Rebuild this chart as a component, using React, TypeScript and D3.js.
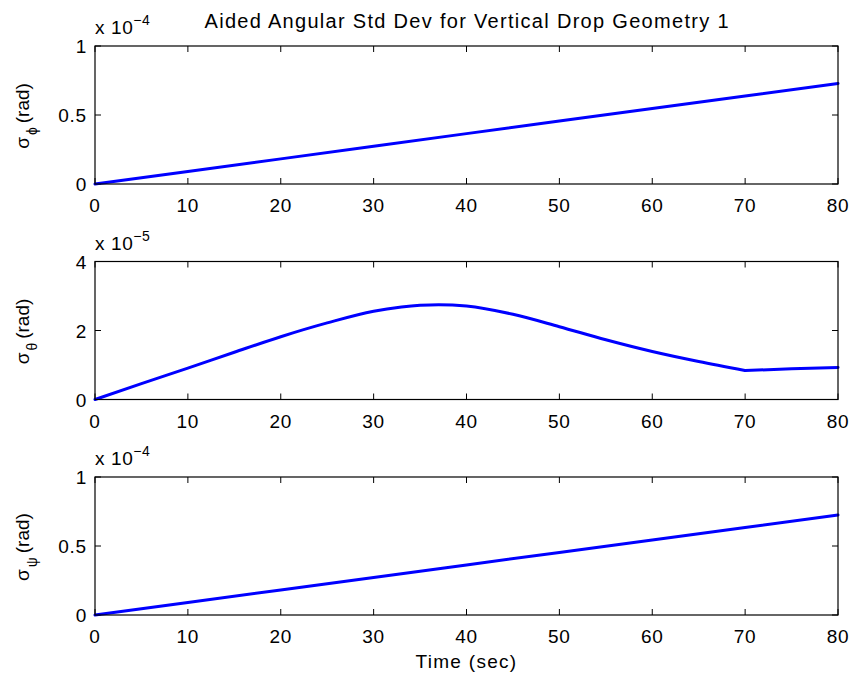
import React from "react";
import * as d3 from "d3";

const timeTop = [0, 10, 20, 30, 40, 50, 60, 70, 80];
const phiValues = [0, 0.091, 0.182, 0.273, 0.365, 0.456, 0.547, 0.638, 0.729];

const timeMid = [0, 5, 10, 15, 20, 25, 30, 33, 35, 37, 40, 45, 50, 55, 60, 65, 70, 75, 80];
const thetaValues = [0, 0.46, 0.91, 1.37, 1.82, 2.22, 2.56, 2.68, 2.73, 2.75, 2.71, 2.47, 2.11, 1.73, 1.39, 1.1, 0.84, 0.89, 0.93];
const thetaKnee = 70;

const timeBot = [0, 10, 20, 30, 40, 50, 60, 70, 80];
const psiValues = [0, 0.091, 0.181, 0.272, 0.363, 0.453, 0.544, 0.634, 0.725];

const xTicks = [0, 10, 20, 30, 40, 50, 60, 70, 80];
const yTicksA = [0, 0.5, 1];
const yTicksB = [0, 2, 4];

const title = "Aided Angular Std Dev for Vertical Drop Geometry 1";
const xLabel = "Time (sec)";

const W = 854;
const H = 681;
const left = 95;
const right = 838;
const plotH = 138;
const tops = [46, 261.5, 477];
const FONT = "'Liberation Sans', Arial, Helvetica, sans-serif";
const FS = 19;

type PanelProps = {
  top: number;
  xs: number[];
  ys: number[];
  yMax: number;
  yTicks: number[];
  exp: string;
  sub: string;
  knee?: number;
};

function Panel({ top, xs, ys, yMax, yTicks, exp, sub, knee }: PanelProps) {
  const x = d3.scaleLinear().domain([0, 80]).range([left, right]);
  const y = d3.scaleLinear().domain([0, yMax]).range([top + plotH, top]);
  const pts: [number, number][] = xs.map((t, i) => [t, ys[i]]);
  const lineCurve = d3
    .line<[number, number]>()
    .x((d) => x(d[0]))
    .y((d) => y(d[1]))
    .curve(d3.curveMonotoneX);
  const lineLin = d3
    .line<[number, number]>()
    .x((d) => x(d[0]))
    .y((d) => y(d[1]));
  let paths: string[];
  if (knee !== undefined) {
    const a = pts.filter((p) => p[0] <= knee);
    const b = pts.filter((p) => p[0] >= knee);
    paths = [lineCurve(a) || "", lineLin(b) || ""];
  } else {
    paths = [lineLin(pts) || ""];
  }
  const tl = 6;
  const bottom = top + plotH;
  return (
    <g>
      <rect x={left} y={top} width={right - left} height={plotH} fill="white" stroke="none" />
      {xTicks.map((t) => (
        <g key={"xt" + t}>
          <line x1={x(t)} x2={x(t)} y1={bottom} y2={bottom - tl} stroke="black" strokeWidth={1} />
          <line x1={x(t)} x2={x(t)} y1={top} y2={top + tl} stroke="black" strokeWidth={1} />
          <text x={x(t)} y={bottom + 28} fontSize={FS} letterSpacing={0.8} textAnchor="middle" fontFamily={FONT}>
            {t}
          </text>
        </g>
      ))}
      {yTicks.map((t) => (
        <g key={"yt" + t}>
          <line x1={left} x2={left + tl} y1={y(t)} y2={y(t)} stroke="black" strokeWidth={1} />
          <line x1={right} x2={right - tl} y1={y(t)} y2={y(t)} stroke="black" strokeWidth={1} />
          <text x={left - 8} y={y(t) + 7} fontSize={FS} letterSpacing={0.8} textAnchor="end" fontFamily={FONT}>
            {String(t)}
          </text>
        </g>
      ))}
      {paths.map((d, i) => (
        <path key={i} d={d} fill="none" stroke="#0000FF" strokeWidth={3} strokeLinejoin="round" strokeLinecap="round" />
      ))}
      <rect x={left} y={top} width={right - left} height={plotH} fill="none" stroke="black" strokeWidth={1.2} />
      <text x={left} y={top - 12} fontSize={FS} letterSpacing={0.6} fontFamily={FONT}>
        x 10
        <tspan fontSize={14} dy={-9}>{exp}</tspan>
      </text>
      <text
        transform={`translate(${left - 66},${top + plotH / 2 + 1}) rotate(-90)`}
        fontSize={FS}
        textAnchor="middle"
        fontFamily={FONT}
      >
        σ
        <tspan fontSize={14} dy={8} dx={2}>{sub}</tspan>
        <tspan dy={-8} dx={4}>(rad)</tspan>
      </text>
    </g>
  );
}

export default function App() {
  return (
    <svg
      width={W}
      height={H}
      style={{ position: "absolute", left: 0, top: 0, background: "white" }}
    >
      <rect x={0} y={0} width={W} height={H} fill="white" />
      <text
        x={(left + right) / 2}
        y={28}
        fontSize={20}
        textAnchor="middle"
        fontFamily={FONT}
        textLength={524}
        lengthAdjust="spacing"
      >
        {title}
      </text>
      <Panel top={tops[0]} xs={timeTop} ys={phiValues} yMax={1} yTicks={yTicksA} exp="−4" sub="ϕ" />
      <Panel top={tops[1]} xs={timeMid} ys={thetaValues} yMax={4} yTicks={yTicksB} exp="−5" sub="θ" knee={thetaKnee} />
      <Panel top={tops[2]} xs={timeBot} ys={psiValues} yMax={1} yTicks={yTicksA} exp="−4" sub="ψ" />
      <text x={(left + right) / 2} y={668} fontSize={FS} letterSpacing={1.3} textAnchor="middle" fontFamily={FONT}>
        {xLabel}
      </text>
    </svg>
  );
}
